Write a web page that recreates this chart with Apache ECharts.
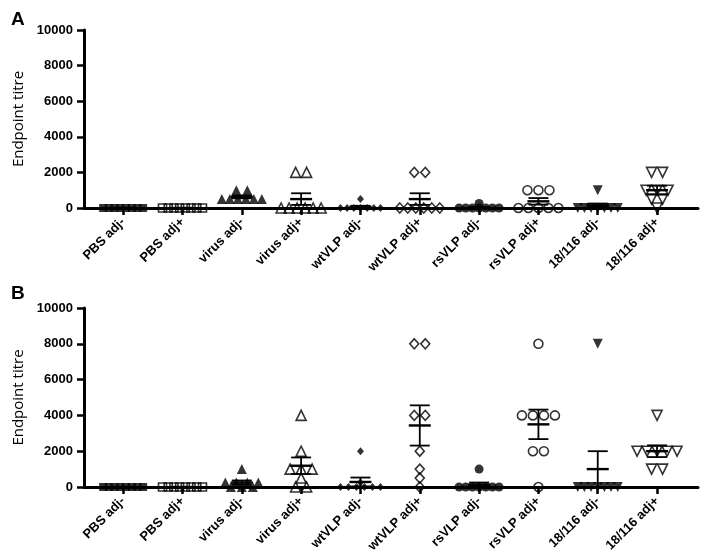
<!DOCTYPE html>
<html>
<head>
<meta charset="utf-8">
<script src="https://cdn.jsdelivr.net/npm/echarts@6/dist/echarts.min.js"></script>
<style>
html,body{margin:0;padding:0;background:#fff;}
#chart{width:708px;height:559px;}
</style>
</head>
<body>
<div id="chart"></div>
<script>
// ---- data ----
const categories = ['PBS adj-','PBS adj+','virus adj-','virus adj+','wtVLP adj-','wtVLP adj+','rsVLP adj-','rsVLP adj+','18/116 adj-','18/116 adj+'];
const yTicks = [0, 2000, 4000, 6000, 8000, 10000];
const panelLabels = ['A', 'B'];
const yAxisTitle = 'Endpoint titre';

// Panel A endpoint titres (one array per group, 8 animals each)
const titresA = [
  [0,0,0,0,0,0,0,0],
  [0,0,0,0,0,0,0,0],
  [1000,1000,500,500,500,500,500,500],
  [2000,2000,0,0,0,0,0,0],
  [500,0,0,0,0,0,0,0],
  [2000,2000,0,0,0,0,0,0],
  [250,0,0,0,0,0,0,0],
  [1000,1000,1000,0,0,0,0,0],
  [1000,0,0,0,0,0,0,0],
  [2000,2000,1000,1000,1000,500,500,0]
];
// Panel B endpoint titres
const titresB = [
  [0,0,0,0,0,0,0,0],
  [0,0,0,0,0,0,0,0],
  [1000,250,250,250,250,0,0,0],
  [4000,2000,1000,1000,1000,500,0,0],
  [2000,250,0,0,0,0,0,0],
  [8000,8000,4000,4000,2000,1000,500,0],
  [1000,0,0,0,0,0,0,0],
  [8000,4000,4000,4000,4000,2000,2000,0],
  [8000,0,0,0,0,0,0,0],
  [4000,2000,2000,2000,2000,2000,1000,1000]
];

// ---- styles ----
const symbolShapes = ['rect','rect','triangle','triangle','diamond','diamond','circle','circle','triangle','triangle'];
const symbolFilled = [true,false,true,false,true,false,true,false,true,false];
const symbolRot = [0,0,0,0,0,0,0,0,180,180];
const symbolSz = [8,8,10,10,[7,8],[9,10],9,9,10,10];

const FONT = 'Liberation Sans, Arial, sans-serif';
const X_MIN = -0.66, X_MAX = 9.69;
const GRID_LEFT = 84, GRID_W = 614;
const grids = [{left: GRID_LEFT, top: 30, width: GRID_W, height: 178},
               {left: GRID_LEFT, top: 308, width: GRID_W, height: 179}];
const PX_PER_UNIT = GRID_W / (X_MAX - X_MIN);
const ROW_STEP = 11, ROW_MAXW = 40;

function spread(vals, idx) {
  const sorted = vals.slice().sort((a,b)=>b-a);
  const rows = [];
  sorted.forEach(v => {
    const r = rows.find(rr => rr.v === v);
    if (r) r.n++; else rows.push({v, n:1});
  });
  const out = [];
  rows.forEach(r => {
    const sp = r.n > 1 ? Math.min(ROW_STEP, ROW_MAXW/(r.n-1)) : 0;
    for (let j=0;j<r.n;j++) {
      const off = (j - (r.n-1)/2) * sp / PX_PER_UNIT;
      out.push([idx + off, r.v]);
    }
  });
  return out;
}
function stats(vals) {
  const n = vals.length;
  const m = vals.reduce((a,b)=>a+b,0)/n;
  const sd = Math.sqrt(vals.reduce((a,b)=>a+(b-m)*(b-m),0)/(n-1));
  const se = sd/Math.sqrt(n);
  return {m, lo: m-se, hi: m+se};
}

const xIdx = categories.map((_,i)=>i);
const chart = echarts.init(document.getElementById('chart'), null, {renderer:'canvas'});

const xAxes = [], yAxes = [], series = [];
[titresA, titresB].forEach((titres, p) => {
  xAxes.push({
    gridIndex: p, type: 'value', min: X_MIN, max: X_MAX,
    axisLine: {show: true, onZero: false, lineStyle: {color: '#000', width: 3}},
    axisTick: {show: true, customValues: xIdx, length: 7, lineStyle: {color:'#000', width: 2.5}},
    axisLabel: {show: true, customValues: xIdx, rotate: 45, margin: 12,
      formatter: v => categories[Math.round(v)],
      color: '#000', fontWeight: 'bold', fontSize: 13, fontFamily: FONT},
    splitLine: {show: false}
  });
  yAxes.push({
    gridIndex: p, type: 'value', min: yTicks[0], max: yTicks[yTicks.length-1], interval: yTicks[1]-yTicks[0],
    name: yAxisTitle, nameLocation: 'middle', nameRotate: 90, nameGap: 47,
    nameTextStyle: {color: '#000', fontSize: 15, fontFamily: 'Open Sans, sans-serif'},
    axisLine: {show: true, onZero: false, lineStyle: {color:'#000', width: 3}},
    axisTick: {show: true, length: 7, lineStyle: {color:'#000', width: 2.5}},
    axisLabel: {color:'#000', fontWeight:'bold', fontSize: 13, fontFamily: FONT, margin: 11,
      formatter: v => String(v)},
    splitLine: {show: false}
  });
  titres.forEach((vals, i) => {
    series.push({
      type: 'scatter', xAxisIndex: p, yAxisIndex: p, z: 3,
      data: spread(vals, i),
      symbol: symbolShapes[i], symbolSize: symbolSz[i], symbolRotate: symbolRot[i],
      itemStyle: symbolFilled[i] ? {color: '#000'} : {color: 'rgba(255,255,255,0)', borderColor: '#000', borderWidth: 1.6},
      emphasis: {disabled: true}, silent: true
    });
  });
  series.push({
    type: 'custom', xAxisIndex: p, yAxisIndex: p, z: 4, silent: true,
    data: titres.map((vals,i)=>{ const s = stats(vals); return [i, s.m, s.lo, s.hi]; }),
    renderItem: (params, api) => {
      const x = api.value(0);
      const pm = api.coord([x, api.value(1)]);
      const pl = api.coord([x, api.value(2)]);
      const ph = api.coord([x, api.value(3)]);
      const st = {stroke:'#000', lineWidth: 1.8, fill: null};
      return {type:'group', children:[
        {type:'line', shape:{x1:pm[0], y1:pl[1], x2:pm[0], y2:ph[1]}, style: st},
        {type:'line', shape:{x1:pm[0]-10, y1:ph[1], x2:pm[0]+10, y2:ph[1]}, style: st},
        {type:'line', shape:{x1:pm[0]-10, y1:pl[1], x2:pm[0]+10, y2:pl[1]}, style: st},
        {type:'line', shape:{x1:pm[0]-11, y1:pm[1], x2:pm[0]+11, y2:pm[1]}, style: {stroke:'#000', lineWidth: 2.4}}
      ]};
    }
  });
});

chart.setOption({
  animation: false,
  backgroundColor: '#fff',
  grid: grids,
  xAxis: xAxes,
  yAxis: yAxes,
  series: series,
  graphic: [
    {type:'text', left: 11, top: 10, style:{text: panelLabels[0], font: 'bold 19px ' + FONT, fill:'#000'}},
    {type:'text', left: 11, top: 284, style:{text: panelLabels[1], font: 'bold 19px ' + FONT, fill:'#000'}}
  ]
});
</script>
</body>
</html>
